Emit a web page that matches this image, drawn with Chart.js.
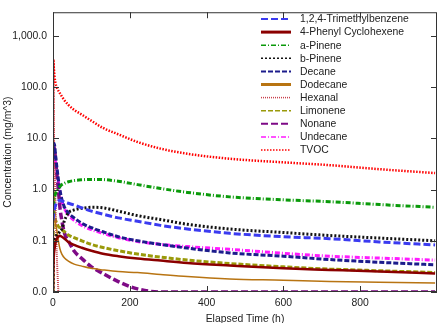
<!DOCTYPE html>
<html>
<head>
<meta charset="utf-8">
<script src="https://cdn.jsdelivr.net/npm/chart.js@4.4.0/dist/chart.umd.min.js"></script>
<style>
  body { margin: 0; background: #fff; }
  #wrap { width: 445px; height: 323px; }
</style>
</head>
<body>
<div id="wrap"><canvas id="concChart" width="445" height="323"></canvas></div>
<script>
// elapsed time (h), shared by all series
const hours = [0, 1, 2, 4, 7, 10, 14, 18, 23, 30, 40, 55, 75, 100, 130, 170, 220, 280, 350, 460, 600, 720, 850, 995];

// concentrations (mg/m^3)
const trimethylbenzene = [0.25, 0.3, 0.35, 0.42, 0.5, 0.56, 0.6, 0.62, 0.6, 0.57, 0.54, 0.5, 0.44, 0.38, 0.33, 0.28, 0.24, 0.2, 0.17, 0.14, 0.12, 0.11, 0.095, 0.083];
const phenylCyclohexene = [0.01, 0.03, 0.05, 0.07, 0.095, 0.11, 0.12, 0.125, 0.12, 0.11, 0.095, 0.083, 0.073, 0.064, 0.056, 0.05, 0.045, 0.041, 0.037, 0.033, 0.029, 0.027, 0.025, 0.023];
const aPinene = [0.3, 0.45, 0.55, 0.7, 0.85, 0.95, 1.05, 1.15, 1.25, 1.33, 1.42, 1.5, 1.55, 1.58, 1.57, 1.45, 1.25, 1.05, 0.88, 0.72, 0.63, 0.58, 0.51, 0.45];
const bPinene = [0.01, 0.05, 0.08, 0.1, 0.12, 0.13, 0.14, 0.15, 0.17, 0.25, 0.35, 0.4, 0.43, 0.45, 0.44, 0.38, 0.31, 0.26, 0.21, 0.17, 0.145, 0.127, 0.113, 0.1];
const decane = [4, 7, 8, 7.5, 4.5, 2.8, 1.6, 1.0, 0.65, 0.45, 0.35, 0.28, 0.22, 0.18, 0.15, 0.12, 0.1, 0.085, 0.072, 0.058, 0.05, 0.043, 0.038, 0.034];
const dodecane = [0.01, 0.3, 0.28, 0.25, 0.2, 0.16, 0.1, 0.07, 0.055, 0.046, 0.04, 0.035, 0.032, 0.029, 0.027, 0.025, 0.024, 0.022, 0.02, 0.018, 0.017, 0.016, 0.0155, 0.015];
const hexanal = [0.01, 110, 20, 3, 0.4, 0.05, 0.01, null, null, null, null, null, null, null, null, null, null, null, null, null, null, null, null, null];
const limonene = [0.01, 0.9, 0.5, 0.32, 0.25, 0.22, 0.19, 0.18, 0.165, 0.15, 0.13, 0.115, 0.1, 0.085, 0.074, 0.064, 0.055, 0.048, 0.042, 0.036, 0.031, 0.028, 0.026, 0.024];
const nonane = [6, 6.5, 7, 6, 3.5, 2, 1.0, 0.45, 0.25, 0.14, 0.1, 0.063, 0.045, 0.031, 0.023, 0.016, 0.0115, 0.01, 0.01, 0.01, 0.01, 0.01, 0.01, 0.01];
const undecane = [5.8, 5.5, 5, 4.5, 3.2, 2.2, 1.4, 0.9, 0.6, 0.42, 0.32, 0.25, 0.2, 0.165, 0.14, 0.115, 0.097, 0.085, 0.077, 0.068, 0.057, 0.05, 0.046, 0.042];
const tvoc = [0.01, 350, 250, 160, 115, 98, 85, 76, 66, 55, 45, 36, 29, 22, 16, 12, 8.5, 6.3, 5.0, 4.0, 3.4, 3.0, 2.5, 2.1];

const seriesNames = ["1,2,4-Trimethylbenzene", "4-Phenyl Cyclohexene", "a-Pinene", "b-Pinene", "Decane", "Dodecane", "Hexanal", "Limonene", "Nonane", "Undecane", "TVOC"];
const seriesValues = [trimethylbenzene, phenylCyclohexene, aPinene, bPinene, decane, dodecane, hexanal, limonene, nonane, undecane, tvoc];

// axis ticks
const xTicks = [0, 200, 400, 600, 800];
const yTicks = [0.01, 0.1, 1, 10, 100, 1000];

// line looks: colour, width in plot, width in legend, dash
const looks = [
  ["#3b3bf0", 3, 2, [7, 3]],
  ["#8b0000", 2.5, 3, []],
  ["#0a9a0a", 3, 1.5, [5, 2, 1, 2]],
  ["#111111", 3, 1.5, [2, 2]],
  ["#1c1c8c", 3, 2, [5, 2]],
  ["#b87412", 1.5, 3, []],
  ["#c8404c", 2, 1.5, [1, 1]],
  ["#9a9a0a", 3, 1.5, [5, 2]],
  ["#7e0a86", 3.5, 2, [7, 3]],
  ["#ff1aff", 3, 1.5, [5, 2, 1, 2]],
  ["#ff0000", 2.5, 1.5, [1.5, 1.5]]
];

const FONT = "'Liberation Sans', Arial, sans-serif";
const FSIZE = 10.4;

const datasets = seriesNames.map((name, i) => ({
  label: name,
  data: hours.map((h, j) => ({ x: h, y: seriesValues[i][j] })),
  borderColor: looks[i][0],
  backgroundColor: looks[i][0],
  borderWidth: looks[i][1],
  legendWidth: looks[i][2],
  borderDash: looks[i][3],
  pointRadius: 0,
  cubicInterpolationMode: 'monotone',
  fill: false,
  spanGaps: false
}));

// frame with inward tick marks, axis titles and the legend inside the plot
const framePlugin = {
  id: 'frame',
  afterDraw(chart) {
    const ctx = chart.ctx;
    const a = chart.chartArea;
    const xs = chart.scales.x, ys = chart.scales.y;
    ctx.save();
    ctx.strokeStyle = '#333';
    ctx.lineWidth = 1;
    ctx.setLineDash([]);
    ctx.strokeRect(a.left + 0.5, a.top + 0.5, a.right - a.left - 1, a.bottom - a.top - 1);
    ctx.beginPath();
    xTicks.forEach(v => {
      const px = Math.round(xs.getPixelForValue(v)) + 0.5;
      ctx.moveTo(px, a.bottom); ctx.lineTo(px, a.bottom - 6);
      ctx.moveTo(px, a.top); ctx.lineTo(px, a.top + 6);
    });
    yTicks.forEach(v => {
      const py = Math.round(ys.getPixelForValue(v)) + 0.5;
      ctx.moveTo(a.left, py); ctx.lineTo(a.left + 6, py);
      ctx.moveTo(a.right, py); ctx.lineTo(a.right - 6, py);
    });
    ctx.stroke();

    // axis titles
    ctx.fillStyle = '#222';
    ctx.font = FSIZE + 'px ' + FONT;
    ctx.textAlign = 'center';
    ctx.textBaseline = 'top';
    ctx.fillText('Elapsed Time (h)', (a.left + a.right) / 2, 314);
    ctx.save();
    ctx.translate(8, (a.top + a.bottom) / 2);
    ctx.rotate(-Math.PI / 2);
    ctx.textBaseline = 'middle';
    ctx.fillText('Concentration (mg/m^3)', 0, 0);
    ctx.restore();

    // legend
    ctx.textAlign = 'left';
    ctx.textBaseline = 'middle';
    chart.data.datasets.forEach((ds, i) => {
      const y = 19 + i * 13.1;
      ctx.strokeStyle = ds.borderColor;
      ctx.lineWidth = ds.legendWidth;
      ctx.setLineDash(ds.borderDash);
      ctx.beginPath();
      ctx.moveTo(261, y); ctx.lineTo(291, y);
      ctx.stroke();
      ctx.fillStyle = '#222';
      ctx.fillText(ds.label, 300, y + 0.5);
    });
    ctx.restore();
  }
};

new Chart(document.getElementById('concChart'), {
  type: 'line',
  data: { datasets: datasets },
  options: {
    responsive: false,
    animation: false,
    layout: { padding: { top: 3, right: 8, left: 0, bottom: 0 } },
    plugins: {
      legend: { display: false },
      tooltip: { enabled: false }
    },
    scales: {
      x: {
        type: 'linear',
        min: 0,
        max: 1000,
        afterBuildTicks: s => { s.ticks = xTicks.map(v => ({ value: v })); },
        afterFit: s => { s.height = 31; },
        grid: { display: false, drawTicks: false },
        border: { display: false },
        ticks: { color: '#222', font: { size: FSIZE, family: FONT }, padding: 5, maxRotation: 0 }
      },
      y: {
        type: 'logarithmic',
        min: 0.01,
        max: 2900,
        afterBuildTicks: s => { s.ticks = yTicks.map(v => ({ value: v })); },
        afterFit: s => { s.width = 53; },
        grid: { display: false, drawTicks: false },
        border: { display: false },
        ticks: {
          color: '#222',
          font: { size: FSIZE, family: FONT },
          padding: 6,
          callback: v => Number(v).toLocaleString('en-US', { minimumFractionDigits: 1, maximumFractionDigits: 1 })
        }
      }
    }
  },
  plugins: [framePlugin]
});
</script>
</body>
</html>
